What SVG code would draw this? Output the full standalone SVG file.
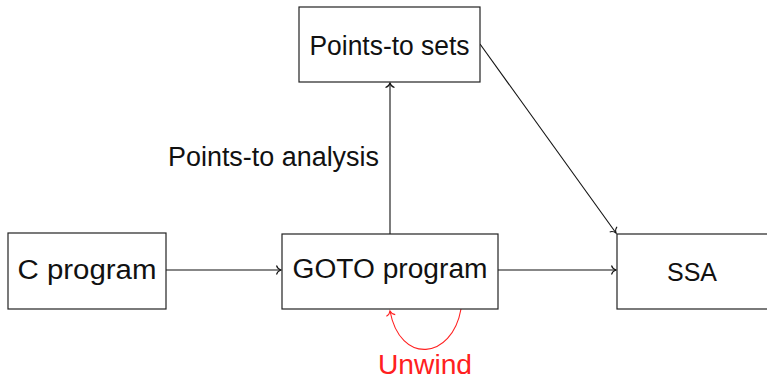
<svg xmlns="http://www.w3.org/2000/svg" width="767" height="380" viewBox="0 0 767 380">
  <style>
    .box { fill: #ffffff; stroke: #222222; stroke-width: 1.2; }
    .label { font-family: "Liberation Sans", Arial, sans-serif; font-size: 27px; fill: #111111; text-anchor: middle; }
    .edge { fill: none; stroke: #111111; stroke-width: 1.1; }
    .red { stroke: #ff2020; }
  </style>
  <defs>
    <marker id="tip" markerUnits="userSpaceOnUse" viewBox="-6 -6 8 12" refX="0" refY="0" markerWidth="8" markerHeight="12" orient="auto">
      <path d="M -4.5,-4.5 C -3.8,-2 -1.2,-0.4 0,0 C -1.2,0.4 -3.8,2 -4.5,4.5" fill="none" stroke="#111111" stroke-width="1.1"/>
    </marker>
    <marker id="tipRed" markerUnits="userSpaceOnUse" viewBox="-6 -6 8 12" refX="0" refY="0" markerWidth="8" markerHeight="12" orient="auto">
      <path d="M -4.5,-4.5 C -3.8,-2 -1.2,-0.4 0,0 C -1.2,0.4 -3.8,2 -4.5,4.5" fill="none" stroke="#ff2020" stroke-width="1.1"/>
    </marker>
  </defs>

  <g id="connectors">
    <line class="edge" x1="166" y1="270" x2="281" y2="270" marker-end="url(#tip)"/>
    <line class="edge" x1="498" y1="270" x2="616" y2="270" marker-end="url(#tip)"/>
    <line class="edge" x1="390" y1="234" x2="390" y2="83" marker-end="url(#tip)"/>
    <line class="edge" x1="480" y1="44" x2="616" y2="233" marker-end="url(#tip)"/>
    <path class="edge red" d="M 461,309 C 452,360 400,365 390,311" marker-end="url(#tipRed)"/>
    <text class="label" x="379" y="166" style="text-anchor:end" textLength="211" lengthAdjust="spacingAndGlyphs">Points-to analysis</text>
    <text class="label" x="425" y="374" style="fill:#ff2020" textLength="94" lengthAdjust="spacingAndGlyphs">Unwind</text>
  </g>

  <g id="c-program">
    <rect class="box" x="8" y="233" width="158" height="76"/>
    <text class="label" x="87" y="279" textLength="139" lengthAdjust="spacingAndGlyphs">C program</text>
  </g>

  <g id="goto-program">
    <rect class="box" x="282" y="234" width="216" height="75"/>
    <text class="label" x="390" y="278" textLength="195" lengthAdjust="spacingAndGlyphs">GOTO program</text>
  </g>

  <g id="points-to-sets">
    <rect class="box" x="299" y="7" width="181" height="75"/>
    <text class="label" x="389.5" y="55" textLength="160" lengthAdjust="spacingAndGlyphs">Points-to sets</text>
  </g>

  <g id="ssa">
    <rect class="box" x="617" y="234" width="160" height="75"/>
    <text class="label" x="692" y="281" style="font-size:25px">SSA</text>
  </g>
</svg>
